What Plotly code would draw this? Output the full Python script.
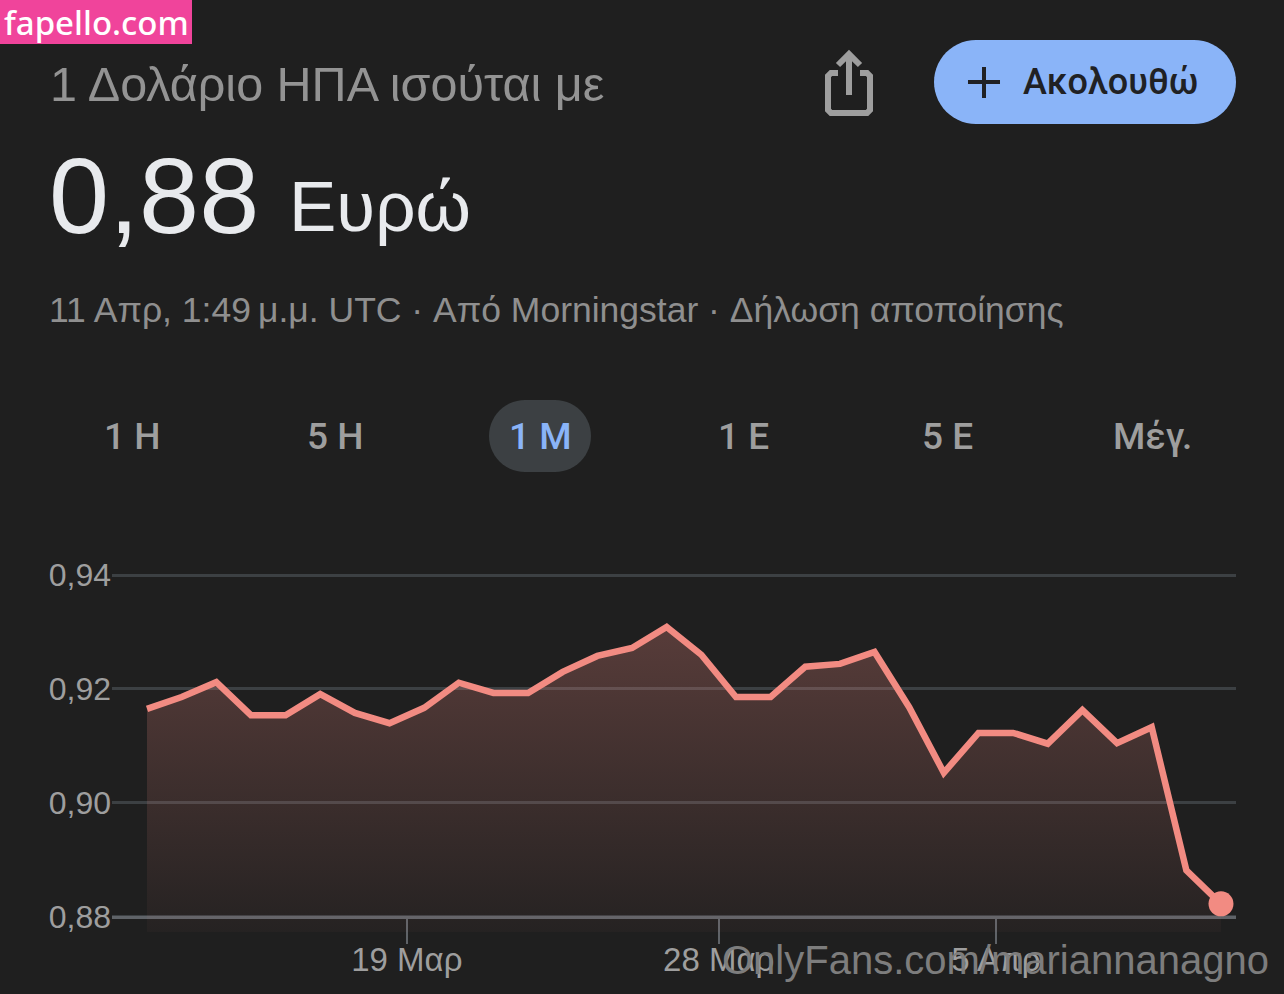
import math
import pandas as pd
import plotly.graph_objects as go

W, H = 1284, 994

dates = pd.date_range("2025-03-11 12:00", "2025-04-11 12:00", freq="D")
rates = [0.9165, 0.9186, 0.9212, 0.9154, 0.9154, 0.9191, 0.9158, 0.9140,
         0.9167, 0.9211, 0.9193, 0.9193, 0.9230, 0.9258, 0.9272, 0.9309,
         0.9260, 0.9186, 0.9186, 0.9239, 0.9244, 0.9265, 0.9168, 0.9053,
         0.9123, 0.9123, 0.9104, 0.9163, 0.9105, 0.9133, 0.8882, 0.8823]
y_ticks = [0.88, 0.90, 0.92, 0.94]
y_labels = ["0,88", "0,90", "0,92", "0,94"]
x_ticks = ["2025-03-19", "2025-03-28", "2025-04-05"]
x_labels = ["19 Μαρ", "28 Μαρ", "5 Απρ"]
period_labels = ["1 Η", "5 Η", "1 Μ", "1 Ε", "5 Ε", "Μέγ."]
FILL_FLOOR = 0.87737

BG = "#1f1f1f"
RED = "#f28b82"
GREY = "#9e9e9e"
BLUE = "#8ab4f8"
SANS = "Liberation Sans"


def px(x):
    return x / W


def py(y):
    return 1 - y / H


fig = go.Figure()
fig.add_trace(go.Scatter(x=dates, y=[FILL_FLOOR] * len(dates), mode="lines",
                         line=dict(width=0), hoverinfo="skip", showlegend=False))
fig.add_trace(go.Scatter(
    x=dates, y=rates, mode="lines", fill="tonexty",
    line=dict(color=RED, width=6.5, shape="linear"),
    fillgradient=dict(type="vertical",
                      colorscale=[[0, "rgba(242,139,130,0.03)"], [1, "rgba(242,139,130,0.27)"]]),
    showlegend=False))
fig.add_trace(go.Scatter(x=[dates[-1]], y=[rates[-1]], mode="markers",
                         marker=dict(color=RED, size=25), showlegend=False))


def text(x, y, s, size, color, anchor="left", family=SANS, weight=400):
    fig.add_annotation(xref="paper", yref="paper", x=px(x), y=py(y), text=s, showarrow=False,
                       xanchor=anchor, yanchor="middle", align=anchor,
                       font=dict(size=size, color=color, family=family, weight=weight),
                       borderpad=0, borderwidth=0)


shapes = []


def rect(x0, y0, x1, y1, color):
    shapes.append(dict(type="rect", xref="paper", yref="paper", x0=px(x0), x1=px(x1),
                       y0=py(y0), y1=py(y1), fillcolor=color, line=dict(width=0), layer="below"))


def rounded(x0, y0, x1, y1, r):
    n = 14
    pts = []
    for cx, cy, a0 in [(x1 - r, y0 + r, -90), (x1 - r, y1 - r, 0), (x0 + r, y1 - r, 90), (x0 + r, y0 + r, 180)]:
        for i in range(n + 1):
            a = math.radians(a0 + 90 * i / n)
            pts.append((px(cx + r * math.cos(a)), py(cy + r * math.sin(a))))
    return "M " + " L ".join(f"{a:.5f} {b:.5f}" for a, b in pts) + " Z"


def pill(x0, y0, x1, y1, color):
    shapes.append(dict(type="path", xref="paper", yref="paper", layer="below",
                       fillcolor=color, line=dict(width=0),
                       path=rounded(x0, y0, x1, y1, (y1 - y0) / 2)))


def stroke(points, color, width):
    d = "M " + " L ".join(f"{px(a):.5f} {py(b):.5f}" for a, b in points)
    shapes.append(dict(type="path", xref="paper", yref="paper", path=d, layer="above",
                       line=dict(color=color, width=width)))


# watermark tab
rect(0, 0, 192, 44, "#f0449b")
text(4, 22.5, "fapello.com", 33, "#ffffff", family="Noto Sans", weight=500)

# heading
text(50, 84, "1 Δολάριο ΗΠΑ ισούται με", 48.5, "#939393")
text(49, 196, "0,88", 108, "#e8eaed")
text(289, 207, "Ευρώ", 71, "#e8eaed")
text(49, 310, "11 Απρ, 1:49\u202fμ.μ. UTC · Από Morningstar · Δήλωση αποποίησης", 35.5, "#8f8f8f")

# share icon
stroke([(838, 73), (831, 73), (828, 76), (828, 110), (831, 113), (867, 113), (870, 110),
        (870, 76), (867, 73), (860, 73)], GREY, 6)
stroke([(849, 95), (849, 56)], GREY, 6)
stroke([(838, 65), (849, 54), (860, 65)], GREY, 6)

# follow button
pill(934, 40, 1236, 124, BLUE)
stroke([(968, 82), (1000, 82)], "#202124", 4)
stroke([(984, 67), (984, 98)], "#202124", 4)
text(1023, 82, "Ακολουθώ", 36, "#202124", family="Roboto", weight=500)

# period selector
pill(489, 400, 591, 472, "#3c4043")
for cx, lab in zip([132, 335, 540, 743, 947, 1152], period_labels):
    text(cx, 436, lab, 37, BLUE if lab == "1 Μ" else GREY, anchor="center", family="Roboto", weight=500)

# site watermark
text(722, 960, "OnlyFans.com/mariannanagno", 40, "#7d7d7d")

fig.update_layout(
    width=W, height=H, margin=dict(l=0, r=0, t=0, b=0), autosize=False,
    paper_bgcolor=BG, plot_bgcolor=BG, showlegend=False, shapes=shapes,
    font=dict(family=SANS, color=GREY),
    xaxis=dict(type="date", domain=[px(112), px(1236)],
               range=["2025-03-10 11:45", "2025-04-11 22:24"],
               tickmode="array", tickvals=x_ticks, ticktext=x_labels,
               tickfont=dict(size=33, color=GREY), ticks="outside", ticklen=25, tickwidth=2,
               ticklabelstandoff=-13,
               tickcolor="#5f6368", showgrid=False, showline=True, linecolor="#5f6368", linewidth=3,
               anchor="free", position=py(917), layer="below traces", zeroline=False),
    yaxis=dict(domain=[py(940), py(540)], range=[0.87596, 0.94614],
               tickmode="array", tickvals=y_ticks, ticktext=y_labels,
               tickfont=dict(size=32, color=GREY), ticks="", showgrid=True, gridcolor="#3c4043",
               gridwidth=3, zeroline=False, showline=False),
)

fig.write_html("out.html", config=dict(displayModeBar=False),
               post_script="document.body.style.margin='0';document.body.style.overflow='hidden';document.body.style.background='#1f1f1f';")
